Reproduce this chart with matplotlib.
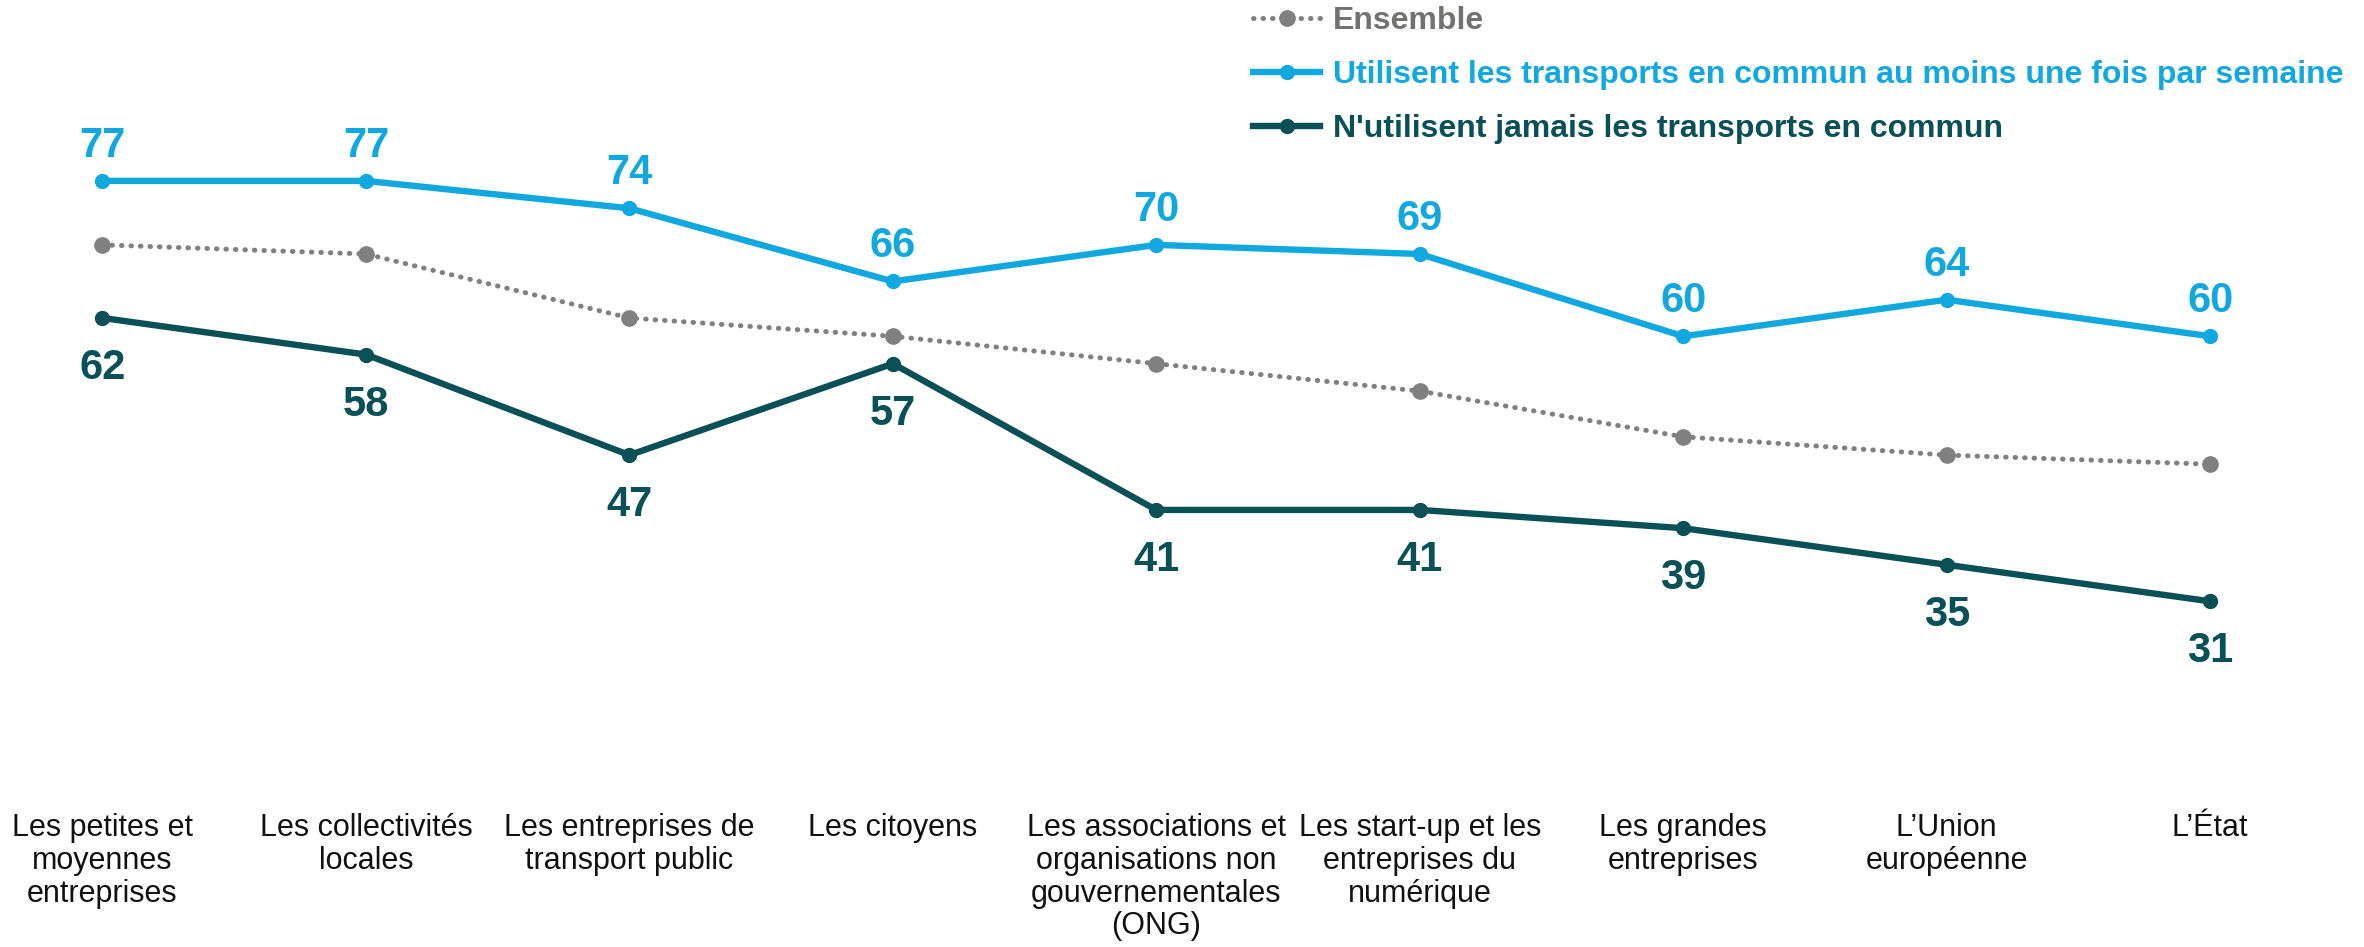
import matplotlib
matplotlib.use("Agg")
import matplotlib.pyplot as plt
import matplotlib.transforms as mtransforms

plt.rcParams['font.family'] = ['Liberation Sans', 'DejaVu Sans']

categories = [
    "Les petites et\nmoyennes\nentreprises",
    "Les collectivités\nlocales",
    "Les entreprises de\ntransport public",
    "Les citoyens",
    "Les associations et\norganisations non\ngouvernementales\n(ONG)",
    "Les start-up et les\nentreprises du\nnumérique",
    "Les grandes\nentreprises",
    "L\u2019Union\neuropéenne",
    "L\u2019État",
]
ensemble = [70, 69, 62, 60, 57, 54, 49, 47, 46]
hebdo = [77, 77, 74, 66, 70, 69, 60, 64, 60]
jamais = [62, 58, 47, 57, 41, 41, 39, 35, 31]

labels = ["Ensemble",
          "Utilisent les transports en commun au moins une fois par semaine",
          "N'utilisent jamais les transports en commun"]

c_gray = "#808080"
c_gray_txt = "#767171"
c_blue = "#11A8E0"
c_dark = "#0A5057"

fig = plt.figure(figsize=(23.64, 9.47), dpi=100)
ax = fig.add_axes([0, 0, 1, 1])
x = list(range(len(categories)))

l1, = ax.plot(x, ensemble, color=c_gray, lw=3.6, linestyle=(0, (0.1, 1.8)),
              dash_capstyle="round", marker="o", markersize=11, zorder=2)
l2, = ax.plot(x, hebdo, color=c_blue, lw=4.6, marker="o", markersize=10, zorder=3)
l3, = ax.plot(x, jamais, color=c_dark, lw=4.6, marker="o", markersize=10, zorder=3)

for i in x:
    ax.annotate(str(hebdo[i]), (i, hebdo[i]), xytext=(0, 24), textcoords="offset pixels",
                ha="center", va="baseline", fontsize=30, fontweight="bold", color=c_blue)
    ax.annotate(str(jamais[i]), (i, jamais[i]), xytext=(0, -61), textcoords="offset pixels",
                ha="center", va="baseline", fontsize=30, fontweight="bold", color=c_dark)

trans = mtransforms.blended_transform_factory(ax.transData, ax.transAxes)
for i, cat in enumerate(categories):
    ax.text(i, 1 - 813 / 947, cat, transform=trans, ha="center", va="top",
            fontsize=22, color="#111111", linespacing=1.12, multialignment="center")

ax.set_xlim(-0.389, 8.584)
ax.set_ylim(-6.82, 96.79)
ax.axis("off")

leg = fig.legend([l1, l2, l3], labels, loc="upper left", bbox_to_anchor=(1253 / 2364, 1 - 6 / 947),
                 frameon=False, prop={"size": 23, "weight": "bold"}, handlelength=2.1,
                 handletextpad=0.4, labelspacing=0.75, borderpad=0, borderaxespad=0)
for t, c in zip(leg.get_texts(), [c_gray_txt, c_blue, c_dark]):
    t.set_color(c)

fig.savefig("out.png", dpi=100)
